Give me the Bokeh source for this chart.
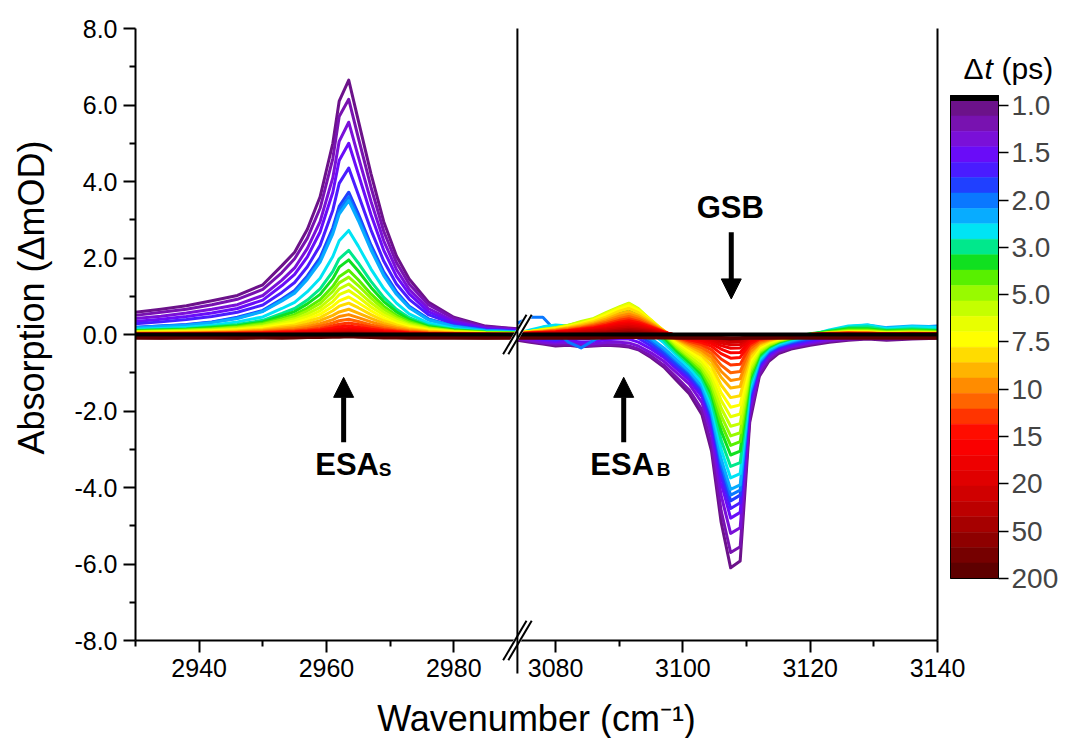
import math
from bokeh.plotting import figure
from bokeh.models import Range1d, FixedTicker, Arrow, NormalHead, Label, LinearAxis
from bokeh.embed import file_html
from bokeh.resources import INLINE

FONT = "Liberation Sans"

# ---------------- data ----------------
wn_left = [2930, 2934, 2938, 2942, 2946, 2950, 2953, 2955, 2957, 2959, 2961,
           2962, 2963.5, 2965, 2967, 2969, 2971, 2973, 2976, 2980, 2985, 2990]
wn_right = [3074, 3076, 3078, 3080, 3082, 3084, 3086, 3088, 3090, 3091.5, 3093,
            3095, 3097, 3099, 3101, 3103, 3104.5, 3106, 3107.5, 3109, 3110.5,
            3112, 3113.5, 3115, 3117, 3120, 3123, 3126, 3129, 3132, 3136, 3140]

delays = [1.0, 1.2, 1.3, 1.5, 1.7, 1.8, 2.0, 2.3, 2.6, 3.0, 3.5, 4.0, 5.0, 5.8,
          6.7, 7.5, 8.3, 9.2, 10, 12, 13, 15, 17, 18, 20, 30, 40, 50, 100, 150, 200]

colors = ["#6c128a", "#7812b0", "#7a10d8", "#6a0cf8", "#4a1cff", "#2040ff",
          "#0a78ff", "#08acff", "#00e4f4", "#00e88c", "#10e020", "#58f000",
          "#98fa00", "#c4ff00", "#e8ff00", "#ffff00", "#ffdc00", "#ffb400",
          "#ff8c00", "#ff6400", "#ff3400", "#ff0c00", "#fa0000", "#ee0000",
          "#e00000", "#d00000", "#bc0000", "#a60000", "#8e0000", "#760000", "#5e0000"]

# left segment (2930-2990 cm-1), one list per delay
L00 = [0.58, 0.66, 0.75, 0.88, 1.02, 1.30, 1.80, 2.15, 2.75, 3.60, 5.00, 6.10, 6.65, 5.60, 4.20, 2.95, 2.05, 1.45, 0.85, 0.45, 0.22, 0.15]
L01 = [0.50, 0.58, 0.66, 0.78, 0.92, 1.18, 1.62, 1.98, 2.52, 3.30, 4.60, 5.70, 6.15, 5.15, 3.85, 2.70, 1.88, 1.32, 0.78, 0.42, 0.20, 0.14]
L02 = [0.42, 0.48, 0.56, 0.66, 0.78, 1.02, 1.42, 1.74, 2.25, 2.95, 4.10, 5.05, 5.55, 4.65, 3.48, 2.45, 1.70, 1.18, 0.68, 0.36, 0.17, 0.12]
L03 = [0.34, 0.40, 0.47, 0.56, 0.68, 0.90, 1.28, 1.57, 2.03, 2.68, 3.72, 4.55, 5.00, 4.20, 3.13, 2.20, 1.52, 1.06, 0.60, 0.32, 0.15, 0.10]
L04 = [0.28, 0.33, 0.39, 0.47, 0.58, 0.77, 1.10, 1.36, 1.77, 2.33, 3.25, 3.95, 4.35, 3.66, 2.73, 1.92, 1.32, 0.92, 0.52, 0.27, 0.13, 0.09]
L05 = [0.19, 0.22, 0.26, 0.33, 0.45, 0.63, 0.93, 1.15, 1.53, 2.01, 2.79, 3.35, 3.72, 3.16, 2.34, 1.64, 1.12, 0.74, 0.41, 0.22, 0.11, 0.07]
L06 = [0.18, 0.22, 0.25, 0.32, 0.43, 0.61, 0.90, 1.12, 1.48, 1.94, 2.70, 3.24, 3.60, 3.06, 2.27, 1.58, 1.08, 0.72, 0.40, 0.22, 0.11, 0.07]
L07 = [0.17, 0.21, 0.24, 0.31, 0.42, 0.60, 0.88, 1.08, 1.44, 1.89, 2.63, 3.15, 3.50, 2.98, 2.21, 1.54, 1.05, 0.70, 0.38, 0.21, 0.10, 0.07]
L08 = [0.14, 0.16, 0.19, 0.24, 0.33, 0.46, 0.68, 0.84, 1.12, 1.47, 2.04, 2.45, 2.72, 2.31, 1.71, 1.20, 0.82, 0.54, 0.30, 0.16, 0.08, 0.05]
L09 = [0.11, 0.13, 0.15, 0.20, 0.26, 0.37, 0.55, 0.68, 0.90, 1.19, 1.65, 1.98, 2.20, 1.87, 1.39, 0.97, 0.66, 0.44, 0.24, 0.13, 0.07, 0.04]
L10 = [0.10, 0.12, 0.14, 0.18, 0.23, 0.33, 0.49, 0.60, 0.80, 1.05, 1.46, 1.76, 1.95, 1.66, 1.23, 0.86, 0.59, 0.39, 0.21, 0.12, 0.06, 0.04]
L11 = [0.08, 0.10, 0.12, 0.15, 0.20, 0.29, 0.42, 0.52, 0.69, 0.91, 1.26, 1.51, 1.68, 1.43, 1.06, 0.74, 0.50, 0.34, 0.18, 0.10, 0.05, 0.03]
L12 = [0.08, 0.09, 0.11, 0.14, 0.18, 0.26, 0.38, 0.47, 0.62, 0.81, 1.13, 1.35, 1.50, 1.28, 0.95, 0.66, 0.45, 0.30, 0.17, 0.09, 0.05, 0.03]
L13 = [0.07, 0.08, 0.09, 0.12, 0.16, 0.22, 0.33, 0.41, 0.54, 0.71, 0.99, 1.19, 1.32, 1.12, 0.83, 0.58, 0.40, 0.26, 0.15, 0.08, 0.04, 0.03]
L14 = [0.06, 0.07, 0.08, 0.10, 0.14, 0.20, 0.29, 0.36, 0.47, 0.62, 0.86, 1.04, 1.15, 0.98, 0.72, 0.51, 0.35, 0.23, 0.13, 0.07, 0.03, 0.02]
L15 = [0.05, 0.06, 0.07, 0.09, 0.12, 0.17, 0.25, 0.30, 0.40, 0.53, 0.74, 0.88, 0.98, 0.83, 0.62, 0.43, 0.29, 0.20, 0.11, 0.06, 0.03, 0.02]
L16 = [0.04, 0.05, 0.06, 0.07, 0.10, 0.14, 0.21, 0.25, 0.34, 0.44, 0.62, 0.74, 0.82, 0.70, 0.52, 0.36, 0.25, 0.16, 0.09, 0.05, 0.02, 0.02]
L17 = [0.03, 0.04, 0.05, 0.06, 0.08, 0.11, 0.17, 0.20, 0.27, 0.36, 0.50, 0.59, 0.66, 0.56, 0.42, 0.29, 0.20, 0.13, 0.07, 0.04, 0.02, 0.01]
L18 = [0.03, 0.03, 0.04, 0.05, 0.06, 0.09, 0.13, 0.16, 0.21, 0.28, 0.39, 0.47, 0.52, 0.44, 0.33, 0.23, 0.16, 0.10, 0.06, 0.03, 0.02, 0.01]
L19 = [0.02, 0.02, 0.03, 0.04, 0.05, 0.07, 0.10, 0.12, 0.16, 0.22, 0.30, 0.36, 0.40, 0.34, 0.25, 0.18, 0.12, 0.08, 0.04, 0.02, 0.01, 0.01]
L20 = [0.02, 0.02, 0.02, 0.03, 0.04, 0.05, 0.08, 0.09, 0.12, 0.16, 0.23, 0.27, 0.30, 0.26, 0.19, 0.13, 0.09, 0.06, 0.03, 0.02, 0.01, 0.00]
L21 = [0.01, 0.01, 0.02, 0.02, 0.03, 0.04, 0.06, 0.07, 0.09, 0.12, 0.17, 0.20, 0.22, 0.19, 0.14, 0.10, 0.07, 0.04, 0.02, 0.01, 0.01, 0.00]
L22 = [0.01, 0.01, 0.01, 0.01, 0.02, 0.03, 0.04, 0.05, 0.07, 0.09, 0.12, 0.14, 0.16, 0.14, 0.10, 0.07, 0.05, 0.03, 0.02, 0.01, 0.00, 0.00]
L23 = [0.00, 0.01, 0.01, 0.01, 0.01, 0.02, 0.03, 0.04, 0.05, 0.06, 0.09, 0.11, 0.12, 0.10, 0.08, 0.05, 0.04, 0.02, 0.01, 0.01, 0.00, 0.00]
L24 = [0.00, 0.00, 0.01, 0.01, 0.01, 0.02, 0.02, 0.03, 0.04, 0.05, 0.07, 0.08, 0.09, 0.08, 0.06, 0.04, 0.03, 0.02, 0.01, 0.00, 0.00, 0.00]
L25 = [0.00, 0.00, 0.00, 0.01, 0.01, 0.01, 0.02, 0.02, 0.02, 0.03, 0.05, 0.05, 0.06, 0.05, 0.04, 0.03, 0.02, 0.01, 0.01, 0.00, 0.00, 0.00]
L26 = [-0.02, -0.02, -0.03, -0.02, -0.03, -0.02, -0.01, 0.00, 0.01, 0.02, 0.03, 0.04, 0.04, 0.03, 0.02, 0.01, 0.00, -0.01, -0.02, -0.02, -0.03, -0.02]
L27 = [-0.04, -0.05, -0.04, -0.05, -0.04, -0.04, -0.03, -0.02, -0.01, 0.00, 0.01, 0.02, 0.03, 0.02, 0.01, 0.00, -0.02, -0.03, -0.04, -0.04, -0.05, -0.04]
L28 = [-0.06, -0.07, -0.06, -0.07, -0.06, -0.06, -0.05, -0.04, -0.03, -0.02, -0.01, 0.00, 0.01, 0.00, -0.01, -0.02, -0.04, -0.05, -0.06, -0.06, -0.07, -0.06]
L29 = [-0.08, -0.09, -0.08, -0.08, -0.09, -0.08, -0.07, -0.07, -0.06, -0.05, -0.04, -0.03, -0.03, -0.04, -0.05, -0.06, -0.07, -0.07, -0.08, -0.08, -0.09, -0.08]
L30 = [-0.10, -0.10, -0.09, -0.10, -0.10, -0.09, -0.10, -0.09, -0.08, -0.08, -0.07, -0.07, -0.06, -0.07, -0.08, -0.09, -0.09, -0.10, -0.10, -0.09, -0.10, -0.10]

# right segment (3074-3140 cm-1), one list per delay
R00 = [-0.15, -0.2, -0.25, -0.3, -0.28, -0.32, -0.3, -0.28, -0.3, -0.33, -0.4, -0.6, -0.85, -1.2, -1.55, -2.1, -3.05, -4.9, -6.1, -5.92, -2.3, -1.1, -0.7, -0.5, -0.38, -0.28, -0.2, -0.15, -0.12, -0.15, -0.12, -0.1]
R01 = [-0.12, -0.18, -0.22, -0.26, -0.25, -0.3, -0.28, -0.26, -0.27, -0.3, -0.38, -0.56, -0.8, -1.12, -1.45, -1.97, -2.88, -4.6, -5.7, -5.55, -2.15, -1.05, -0.65, -0.46, -0.35, -0.25, -0.17, -0.13, -0.1, -0.12, -0.1, -0.08]
R02 = [-0.1, -0.15, -0.2, -0.22, -0.2, -0.25, -0.24, -0.2, -0.2, -0.22, -0.3, -0.48, -0.7, -1.0, -1.3, -1.78, -2.62, -4.2, -5.2, -5.05, -1.98, -0.95, -0.6, -0.42, -0.32, -0.22, -0.15, -0.1, -0.06, -0.08, -0.06, -0.05]
R03 = [-0.05, -0.1, -0.15, -0.18, -0.15, -0.2, -0.18, -0.14, -0.12, -0.12, -0.2, -0.38, -0.6, -0.9, -1.2, -1.63, -2.42, -3.87, -4.8, -4.65, -1.82, -0.87, -0.54, -0.38, -0.29, -0.19, -0.1, -0.06, -0.02, -0.04, -0.03, -0.02]
R04 = [0.0, -0.05, -0.12, -0.15, -0.1, -0.12, -0.1, -0.06, -0.02, 0.0, -0.1, -0.3, -0.55, -0.85, -1.12, -1.55, -2.28, -3.65, -4.55, -4.4, -1.72, -0.82, -0.5, -0.35, -0.25, -0.15, -0.05, 0.0, 0.02, 0.0, 0.03, 0.05]
R05 = [0.05, 0.0, -0.08, -0.12, -0.08, -0.05, -0.02, 0.02, 0.06, 0.08, -0.02, -0.22, -0.48, -0.78, -1.06, -1.46, -2.17, -3.48, -4.35, -4.2, -1.62, -0.76, -0.46, -0.32, -0.22, -0.12, 0.0, 0.05, 0.08, 0.05, 0.1, 0.12]
R06 = [0.3, 0.45, 0.45, 0.1, -0.2, -0.35, -0.15, 0.05, 0.12, 0.15, 0.05, -0.15, -0.4, -0.7, -0.99, -1.4, -2.1, -3.36, -4.2, -4.07, -1.58, -0.74, -0.44, -0.3, -0.2, -0.08, 0.05, 0.15, 0.2, 0.15, 0.18, 0.22]
R07 = [0.02, 0.05, 0.1, 0.12, 0.08, 0.0, -0.12, -0.05, 0.15, 0.22, 0.12, -0.1, -0.35, -0.65, -0.95, -1.35, -2.02, -3.24, -4.05, -3.93, -1.52, -0.7, -0.42, -0.28, -0.18, -0.05, 0.1, 0.2, 0.25, 0.18, 0.22, 0.2]
R08 = [0.03, 0.12, 0.2, 0.25, 0.22, 0.3, 0.25, 0.3, 0.4, 0.45, 0.32, 0.05, -0.22, -0.55, -0.86, -1.25, -1.87, -3.0, -3.75, -3.64, -1.4, -0.65, -0.38, -0.25, -0.15, -0.02, 0.12, 0.22, 0.25, 0.15, 0.2, 0.18]
R09 = [0.02, 0.05, 0.08, 0.12, 0.18, 0.22, 0.3, 0.38, 0.5, 0.55, 0.42, 0.15, -0.15, -0.48, -0.78, -1.15, -1.72, -2.76, -3.45, -3.35, -1.3, -0.6, -0.35, -0.22, -0.12, 0.0, 0.1, 0.18, 0.2, 0.12, 0.15, 0.12]
R10 = [0.02, 0.06, 0.1, 0.15, 0.2, 0.3, 0.35, 0.45, 0.6, 0.65, 0.5, 0.22, -0.08, -0.42, -0.72, -1.06, -1.57, -2.52, -3.15, -3.05, -1.18, -0.55, -0.32, -0.2, -0.1, 0.02, 0.08, 0.15, 0.15, 0.1, 0.12, 0.1]
R11 = [0.03, 0.07, 0.12, 0.16, 0.22, 0.3, 0.38, 0.5, 0.65, 0.72, 0.58, 0.28, -0.02, -0.36, -0.65, -0.98, -1.45, -2.32, -2.9, -2.8, -1.1, -0.5, -0.3, -0.18, -0.1, 0.0, 0.06, 0.12, 0.12, 0.08, 0.1, 0.08]
R12 = [0.04, 0.08, 0.12, 0.18, 0.24, 0.32, 0.4, 0.55, 0.7, 0.78, 0.63, 0.32, 0.02, -0.32, -0.6, -0.9, -1.33, -2.12, -2.65, -2.57, -1.0, -0.46, -0.28, -0.17, -0.08, 0.0, 0.05, 0.1, 0.1, 0.06, 0.08, 0.06]
R13 = [0.04, 0.08, 0.14, 0.18, 0.24, 0.34, 0.42, 0.58, 0.72, 0.82, 0.68, 0.36, 0.06, -0.27, -0.55, -0.82, -1.2, -1.92, -2.4, -2.33, -0.91, -0.42, -0.25, -0.15, -0.07, 0.0, 0.04, 0.08, 0.08, 0.05, 0.06, 0.05]
R14 = [0.04, 0.08, 0.12, 0.16, 0.22, 0.3, 0.4, 0.55, 0.7, 0.8, 0.66, 0.38, 0.08, -0.23, -0.48, -0.73, -1.08, -1.72, -2.15, -2.08, -0.82, -0.38, -0.22, -0.14, -0.06, 0.0, 0.04, 0.07, 0.07, 0.04, 0.05, 0.04]
R15 = [0.04, 0.08, 0.12, 0.15, 0.21, 0.28, 0.38, 0.52, 0.67, 0.75, 0.63, 0.37, 0.1, -0.18, -0.42, -0.65, -0.95, -1.52, -1.9, -1.84, -0.72, -0.34, -0.2, -0.12, -0.05, 0.0, 0.03, 0.06, 0.06, 0.03, 0.04, 0.03]
R16 = [0.03, 0.07, 0.1, 0.14, 0.19, 0.26, 0.34, 0.46, 0.61, 0.68, 0.57, 0.34, 0.1, -0.15, -0.36, -0.56, -0.82, -1.32, -1.65, -1.6, -0.63, -0.3, -0.18, -0.1, -0.04, 0.0, 0.03, 0.05, 0.05, 0.03, 0.04, 0.03]
R17 = [0.03, 0.06, 0.09, 0.12, 0.17, 0.23, 0.3, 0.41, 0.54, 0.6, 0.5, 0.3, 0.1, -0.12, -0.3, -0.48, -0.7, -1.12, -1.4, -1.36, -0.53, -0.25, -0.15, -0.09, -0.04, 0.0, 0.03, 0.05, 0.04, 0.02, 0.03, 0.03]
R18 = [0.03, 0.05, 0.08, 0.11, 0.15, 0.2, 0.27, 0.36, 0.48, 0.53, 0.45, 0.27, 0.08, -0.1, -0.26, -0.41, -0.6, -0.96, -1.2, -1.16, -0.46, -0.22, -0.13, -0.08, -0.03, 0.0, 0.03, 0.04, 0.04, 0.02, 0.03, 0.02]
R19 = [0.02, 0.05, 0.07, 0.1, 0.13, 0.18, 0.24, 0.32, 0.42, 0.47, 0.4, 0.24, 0.08, -0.08, -0.22, -0.34, -0.5, -0.8, -1.0, -0.97, -0.38, -0.18, -0.11, -0.07, -0.03, 0.0, 0.02, 0.04, 0.03, 0.02, 0.02, 0.02]
R20 = [0.02, 0.04, 0.06, 0.08, 0.11, 0.16, 0.21, 0.28, 0.37, 0.41, 0.35, 0.21, 0.07, -0.06, -0.18, -0.27, -0.4, -0.64, -0.8, -0.78, -0.3, -0.14, -0.09, -0.06, -0.02, 0.0, 0.02, 0.03, 0.03, 0.02, 0.02, 0.02]
R21 = [0.02, 0.04, 0.05, 0.07, 0.1, 0.14, 0.18, 0.24, 0.32, 0.36, 0.31, 0.19, 0.07, -0.04, -0.14, -0.21, -0.31, -0.5, -0.62, -0.6, -0.24, -0.11, -0.07, -0.05, -0.02, 0.0, 0.02, 0.03, 0.02, 0.01, 0.02, 0.01]
R22 = [0.02, 0.03, 0.05, 0.06, 0.09, 0.12, 0.16, 0.21, 0.28, 0.31, 0.26, 0.16, 0.06, -0.03, -0.1, -0.16, -0.24, -0.38, -0.48, -0.47, -0.18, -0.09, -0.05, -0.04, -0.02, 0.0, 0.01, 0.02, 0.02, 0.01, 0.01, 0.01]
R23 = [0.01, 0.03, 0.04, 0.05, 0.08, 0.1, 0.14, 0.18, 0.24, 0.27, 0.23, 0.14, 0.05, -0.02, -0.08, -0.12, -0.18, -0.29, -0.36, -0.35, -0.14, -0.07, -0.04, -0.03, -0.01, 0.0, 0.01, 0.02, 0.01, 0.01, 0.01, 0.01]
R24 = [0.01, 0.02, 0.03, 0.04, 0.06, 0.08, 0.11, 0.15, 0.2, 0.22, 0.19, 0.12, 0.04, -0.01, -0.06, -0.09, -0.14, -0.22, -0.27, -0.26, -0.1, -0.05, -0.03, -0.02, -0.01, 0.0, 0.01, 0.01, 0.01, 0.0, 0.01, 0.0]
R25 = [0.01, 0.02, 0.03, 0.04, 0.05, 0.07, 0.09, 0.12, 0.16, 0.18, 0.15, 0.1, 0.04, -0.01, -0.04, -0.07, -0.1, -0.16, -0.2, -0.19, -0.08, -0.04, -0.02, -0.02, -0.01, 0.0, 0.0, 0.01, 0.0, 0.0, 0.0, 0.0]
R26 = [-0.02, -0.01, 0.0, 0.01, 0.02, 0.04, 0.06, 0.08, 0.12, 0.14, 0.12, 0.07, 0.02, -0.02, -0.04, -0.06, -0.08, -0.11, -0.14, -0.13, -0.06, -0.04, -0.03, -0.03, -0.02, -0.02, -0.02, -0.01, -0.02, -0.02, -0.02, -0.02]
R27 = [-0.04, -0.03, -0.02, -0.01, 0.0, 0.02, 0.03, 0.05, 0.08, 0.1, 0.08, 0.04, 0.0, -0.03, -0.05, -0.06, -0.07, -0.09, -0.1, -0.1, -0.06, -0.05, -0.04, -0.04, -0.04, -0.04, -0.04, -0.03, -0.04, -0.04, -0.04, -0.04]
R28 = [-0.06, -0.05, -0.05, -0.04, -0.03, -0.02, -0.01, 0.01, 0.03, 0.05, 0.04, 0.01, -0.02, -0.04, -0.06, -0.07, -0.07, -0.08, -0.09, -0.09, -0.07, -0.06, -0.06, -0.06, -0.06, -0.06, -0.06, -0.05, -0.06, -0.06, -0.06, -0.06]
R29 = [-0.08, -0.07, -0.07, -0.07, -0.06, -0.05, -0.05, -0.04, -0.03, -0.02, -0.03, -0.04, -0.05, -0.06, -0.07, -0.08, -0.08, -0.09, -0.09, -0.09, -0.08, -0.08, -0.08, -0.08, -0.08, -0.08, -0.08, -0.07, -0.08, -0.08, -0.08, -0.08]
R30 = [-0.1, -0.1, -0.09, -0.1, -0.1, -0.09, -0.1, -0.09, -0.08, -0.08, -0.08, -0.09, -0.09, -0.1, -0.1, -0.1, -0.1, -0.1, -0.11, -0.1, -0.1, -0.1, -0.1, -0.1, -0.09, -0.1, -0.1, -0.09, -0.1, -0.1, -0.1, -0.1]

cb_tick_values = [1.0, 1.5, 2.0, 3.0, 5.0, 7.5, 10, 15, 20, 50, 200]
cb_tick_text = ["1.0", "1.5", "2.0", "3.0", "5.0", "7.5", "10", "15", "20", "50", "200"]
y_major = [-8, -6, -4, -2, 0, 2, 4, 6, 8]
y_minor = [-7, -5, -3, -1, 1, 3, 5, 7]
x_major_wn = [2940, 2960, 2980, 3080, 3100, 3120, 3140]
x_minor_wn = [2930, 2950, 2970, 3090, 3110, 3130]

# annotation anchors (wavenumber, arrow tail, arrow tip)
esa_s = (2962.7, -2.82, -1.12)
esa_b = (3090.7, -2.82, -1.12)
gsb = (3107.6, 2.67, 0.93)

left_sets = [L00, L01, L02, L03, L04, L05, L06, L07, L08, L09, L10, L11, L12, L13, L14, L15,
             L16, L17, L18, L19, L20, L21, L22, L23, L24, L25, L26, L27, L28, L29, L30]
right_sets = [R00, R01, R02, R03, R04, R05, R06, R07, R08, R09, R10, R11, R12, R13, R14, R15,
              R16, R17, R18, R19, R20, R21, R22, R23, R24, R25, R26, R27, R28, R29, R30]
for k, (a, b) in enumerate(zip(left_sets, right_sets)):
    if len(a) != len(wn_left) or len(b) != len(wn_right):
        raise ValueError(f"length mismatch in set {k}: {len(a)} {len(b)}")

# ---------------- axis break mapping ----------------
X0, BREAK_LO, BREAK_HI, X1 = 2930, 2990, 3074, 3140
GAP = BREAK_HI - BREAK_LO
YMIN, YMAX = -8, 8


def xp(w):
    return w if w <= BREAK_LO else w - GAP


# ---------------- page geometry ----------------
W, H = 1068, 738
AX_L, AX_R, AX_T, AX_B = 135, 937, 28, 640          # axes box on the page
PXX = (AX_R - AX_L) / (xp(X1) - X0)
PXY = (AX_B - AX_T) / (YMAX - YMIN)


def dx(px):
    return X0 + (px - AX_L) / PXX


def dy(py):
    return YMAX - (py - AX_T) / PXY


p = figure(width=W, height=H, x_range=Range1d(dx(0), dx(W)), y_range=Range1d(dy(H), dy(0)),
           output_backend="svg", toolbar_location=None, min_border=0)
p.xgrid.visible = False
p.ygrid.visible = False
p.outline_line_color = None
p.background_fill_color = "white"
p.border_fill_color = "white"

xax = p.xaxis[0]
yax = p.yaxis[0]
xax.fixed_location = YMIN
xax.bounds = (X0, xp(X1))
yax.fixed_location = X0
yax.bounds = (YMIN, YMAX)
for ax in (xax, yax):
    ax.axis_line_width = 2
    ax.axis_line_color = "black"
    ax.major_tick_line_width = 2
    ax.minor_tick_line_width = 2
    ax.major_tick_out = 12
    ax.major_tick_in = 0
    ax.minor_tick_out = 6
    ax.minor_tick_in = 0
    ax.major_label_text_font = FONT
    ax.major_label_text_font_size = "25px"
    ax.major_label_text_color = "black"
    ax.major_label_standoff = 6

yax.ticker = FixedTicker(ticks=y_major, minor_ticks=y_minor)
yax.major_label_overrides = {v: f"{v:.1f}" for v in y_major}
xax.ticker = FixedTicker(ticks=[xp(w) for w in x_major_wn], minor_ticks=[xp(w) for w in x_minor_wn])
xax.major_label_overrides = {xp(w): str(w) for w in x_major_wn}

# ---------------- spectra ----------------
lx = [xp(w) for w in wn_left]
rx = [xp(w) for w in wn_right]
for Ls, Rs, c in zip(left_sets, right_sets, colors):
    p.line(lx, Ls, line_color=c, line_width=3, line_join="round")
    p.line(rx, Rs, line_color=c, line_width=3, line_join="round")
p.line(lx, [0.0 for _ in wn_left], line_color="black", line_width=4)
p.line(rx, [0.0 for _ in wn_right], line_color="black", line_width=4)


def seg(x0, y0, x1, y1, color="black", w=2.0):
    p.segment(x0=[x0], y0=[y0], x1=[x1], y1=[y1], line_color=color, line_width=w, level="overlay")


# right frame line
seg(xp(X1), YMIN, xp(X1), YMAX)
# axis break: white masks, vertical line, double slashes
DX, DY, OFF = 11.7 / PXX, 19.7 / PXY, 2.6 / PXX
for yc in (0, YMIN):
    seg(BREAK_LO - DX, yc - DY, BREAK_LO + DX, yc + DY, color="white", w=7)
seg(BREAK_LO, YMAX, BREAK_LO, YMIN - 33 / PXY)
for yc in (0, YMIN):
    for o in (-OFF, OFF):
        seg(BREAK_LO + o - DX, yc - DY, BREAK_LO + o + DX, yc + DY, w=2)

# feature arrows
for wn, ytail, ytip in (esa_s, esa_b, gsb):
    p.add_layout(Arrow(end=NormalHead(size=20, fill_color="black", line_color="black", line_width=1),
                       x_start=xp(wn), y_start=ytail, x_end=xp(wn), y_end=ytip,
                       line_color="black", line_width=5))


def lab(x, y, text, size, style="normal", align="left", xoff=0, baseline="alphabetic", angle=0.0):
    p.add_layout(Label(x=x, y=y, text=text, x_offset=xoff, text_font=FONT, text_font_size=size,
                       text_font_style=style, text_align=align, text_baseline=baseline,
                       text_color="black", angle=angle))


# (labels are set ~0.35 em above the wanted baseline: this renderer drops them by that much)
lab(xp(esa_s[0]), dy(464), "ESA", "31px", "bold", "center", 3.5)
lab(xp(esa_s[0]), dy(468.5), "S", "19px", "bold", "left", 35)
lab(xp(esa_b[0]), dy(464), "ESA", "31px", "bold", "center", -1.5)
lab(xp(esa_b[0]), dy(468.5), "B", "19px", "bold", "left", 33)
lab(xp(gsb[0]), dy(207), "GSB", "31px", "bold", "center", -1)

# axis titles
lab(dx(31), dy(297), "Absorption (\u0394mOD)", "36px", "normal", "center",
    baseline="middle", angle=math.pi / 2)
lab(dx((AX_L + AX_R) / 2), dy(718), "Wavenumber (cm\u207b\u00b9)", "36px", "normal", "center")

# ---------------- colour bar ----------------
nb = len(delays)
CB_L, CB_R, CB_TOP, CB_C0, CB_BOT = 950, 998, 95, 100, 578
PXB = (CB_BOT - CB_C0) / nb
p.extra_y_ranges = {"cb": Range1d(start=(H - CB_C0) / PXB, end=-CB_C0 / PXB)}
band = list(range(nb))
p.quad(left=dx(CB_L), right=dx(CB_R), top=band, bottom=[b + 1 for b in band],
       fill_color=colors, line_color=colors, line_width=0.5, y_range_name="cb")
top_black = -(CB_C0 - CB_TOP) / PXB
p.quad(left=dx(CB_L), right=dx(CB_R), top=top_black, bottom=0, fill_color="black",
       line_color="black", y_range_name="cb")
p.quad(left=dx(CB_L), right=dx(CB_R), top=top_black, bottom=nb, fill_color=None,
       line_color="black", line_width=1, y_range_name="cb")

label_idx = [delays.index(v) for v in cb_tick_values]
first = (105 - CB_C0) / PXB
cb_pos = [round(first + i * (nb - first) / (nb - 1), 3) for i in label_idx]
cax = LinearAxis(y_range_name="cb", fixed_location=dx(CB_R))
cax.ticker = FixedTicker(ticks=cb_pos, minor_ticks=[])
cax.major_label_overrides = {pos: t for pos, t in zip(cb_pos, cb_tick_text)}
cax.axis_line_color = None
cax.major_tick_out = 10
cax.major_tick_in = 0
cax.major_tick_line_width = 1.5
cax.major_label_text_font = FONT
cax.major_label_text_font_size = "28px"
cax.major_label_standoff = 3
p.add_layout(cax, "right")

for text, style, px in (("\u0394", "normal", 963), ("t", "italic", 984), ("(ps)", "normal", 1001)):
    lab(dx(px), dy(68), text, "30px", style, "left")

open("out.html", "w").write(file_html(p, INLINE))
